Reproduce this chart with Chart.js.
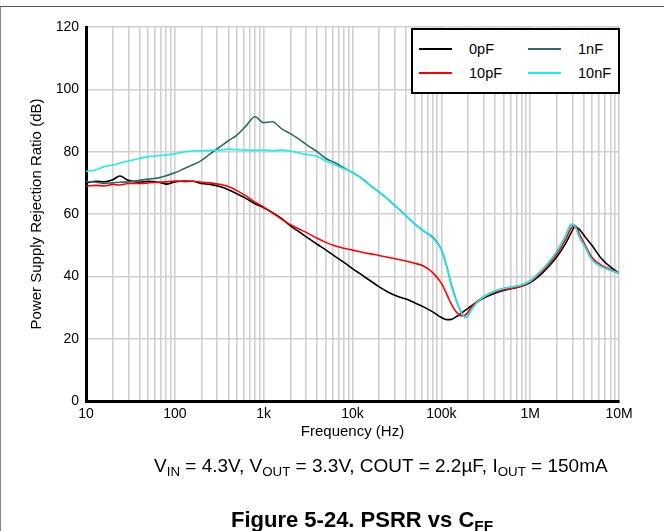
<!DOCTYPE html>
<html>
<head>
<meta charset="utf-8">
<script src="https://cdn.jsdelivr.net/npm/chart.js@4.4.0/dist/chart.umd.min.js"></script>
<style>
  html, body { margin: 0; padding: 0; background: #fff; }
  #wrap { position: relative; width: 664px; height: 531px; overflow: hidden; font-family: "Liberation Sans", Arial, sans-serif; }
  #frame { position: absolute; left: 0; top: 6px; width: 664px; height: 530px; border-top: 1px solid #555; border-left: 1px solid #888; box-sizing: border-box; }
  #chart { position: absolute; left: 0; top: 0; }
  #legend { position: absolute; left: 411px; top: 28px; width: 209px; height: 66px; border: 2px solid #000; box-sizing: border-box; background: #fff; }
  .item { position: absolute; font-size: 14.5px; color: #000; line-height: 16px; height: 16px; }
  .swatch { position: absolute; left: 0; top: 7px; width: 33px; height: 2px; }
  .name { position: absolute; left: 50px; top: 0; white-space: nowrap; }
  .caption { position: absolute; white-space: nowrap; color: #000; }
  .caption sub { font-size: 0.7em; vertical-align: -0.28em; line-height: 0; }
  #cond { left: 154px; top: 455px; font-size: 19px; }
  #fig { left: 231px; top: 508px; font-size: 22px; font-weight: bold; line-height: 24px; }
</style>
</head>
<body>
<div id="wrap">
  <div id="frame"></div>
  <canvas id="chart" width="664" height="531"></canvas>
  <div id="legend"></div>
  <div class="caption" id="cond">V<sub>IN</sub> = 4.3V, V<sub>OUT</sub> = 3.3V, COUT = 2.2µF, I<sub>OUT</sub> = 150mA</div>
  <div class="caption" id="fig">Figure 5-24. PSRR vs C<sub>FF</sub></div>
</div>
<script>
// frequency points (Hz) shared by all curves
const freqHz = [10, 13, 16, 20, 24, 30, 40, 50, 65, 80,
  100, 130, 160, 200, 250, 320, 400, 500, 630, 800,
  1000, 1250, 1600, 2000, 2500, 3200, 4000, 5000, 6300, 8000,
  10000, 12500, 16000, 20000, 25000, 32000, 40000, 50000, 63000, 80000,
  100000, 115000, 130000, 150000, 170000, 190000, 220000, 260000, 320000, 400000,
  500000, 630000, 800000, 1000000, 1250000, 1600000, 2000000, 2500000, 2900000, 3200000,
  3600000, 4200000, 5000000, 6300000, 8000000, 10000000];

// PSRR (dB)
const psrr0pF = [70, 70.5, 70.3, 71, 72.2, 70.8, 70.2, 70.5, 70.2, 69.6,
  70.3, 70.6, 70.5, 69.8, 69.5, 68.8, 67.8, 66.5, 65, 63.3,
  62, 60.5, 58.5, 56.2, 54.3, 52.2, 50.3, 48.5, 46.5, 44.5,
  42.5, 40.6, 38.5, 36.6, 35, 33.6, 32.7, 31.5, 30.2, 28.6,
  26.8, 26.1, 26.2, 27.2, 28.3, 29.3, 30.6, 32, 33.4, 34.6,
  35.5, 36.1, 36.8, 38, 40, 43, 46.3, 50.5, 54, 55.9,
  55, 52.5, 49.8, 45.8, 43, 41];

const psrr10pF = [69, 69.2, 69, 69.5, 69.3, 69.8, 69.8, 70, 70.2, 70.3,
  70.6, 70.4, 70.5, 70.2, 70, 69.5, 68.8, 67.5, 65.8, 63.8,
  62.2, 60.4, 58.3, 56.6, 55.2, 53.7, 52.2, 50.9, 49.8, 49,
  48.4, 47.8, 47.2, 46.7, 46.1, 45.5, 44.9, 44.2, 43.3, 41.2,
  37.8, 34.3, 31, 28.3, 27.3, 27.8, 30.2, 32.2, 33.8, 35,
  35.7, 36.2, 36.9, 38.2, 40.5, 43.7, 47.2, 51.8, 55.5, 56.3,
  53.5, 49.8, 46, 43.6, 42.2, 41];

const psrr1nF = [70.4, 70.2, 69.8, 70, 70.2, 70.3, 70.8, 71.2, 71.6, 72.3,
  73.2, 74.7, 75.8, 77.2, 79.3, 81.5, 83.5, 85.3, 88.2, 91.2,
  89.3, 89.6, 87.3, 85.8, 84, 81.8, 80, 77.8, 76.5, 74.8,
  73.3, 71.6, 69.1, 67, 64.8, 62, 59.5, 56.8, 54.6, 52.5,
  48.7, 43.2, 37.2, 31.7, 28.1, 26.9, 29.5, 32, 33.9, 35.2,
  36.1, 36.6, 37.2, 38.5, 41, 44.3, 48, 52.8, 56.6, 56.2,
  52.6, 49.2, 45.3, 43.2, 42, 41];

const psrr10nF = [73.6, 74.2, 75.2, 75.7, 76.3, 77, 77.8, 78.4, 78.7, 79,
  79.3, 80, 80.2, 80.3, 80.4, 80.5, 80.8, 80.6, 80.5, 80.4,
  80.5, 80.3, 80.5, 80.2, 79.6, 79, 78.5, 77, 75.8, 74.5,
  73.3, 71.5, 69, 67, 64.8, 62, 59.5, 56.8, 54.6, 52.3,
  48.5, 43, 37, 31.5, 28, 26.8, 29.5, 32, 33.9, 35.2,
  36.1, 36.6, 37.2, 38.5, 41, 44.3, 48, 52.8, 56.8, 56,
  52.5, 49.2, 45.2, 43.2, 42, 41];

const seriesNames = ['0pF', '10pF', '1nF', '10nF'];
const seriesColors = ['#000000', '#ff0000', '#2f6b6b', '#19eef2'];
const drawOrder = [4, 2, 3, 1];

const decadeTicks = [10, 100, 1000, 10000, 100000, 1000000, 10000000];
const decadeLabels = ['10', '100', '1k', '10k', '100k', '1M', '10M'];

function points(values) {
    return freqHz.map(function(f, i) { return {x: f, y: values[i]}; });
}

function buildChart() {
    const allValues = [psrr0pF, psrr10pF, psrr1nF, psrr10nF];
    const family = '"Liberation Sans", Arial, sans-serif';
    const tickFont = {family: family, size: 14};
    const titleFont = {family: family, size: 15};

    new Chart(document.getElementById('chart').getContext('2d'), {
        type: 'line',
        data: {
            datasets: seriesNames.map(function(name, i) {
                return {
                    label: name,
                    data: points(allValues[i]),
                    borderColor: seriesColors[i],
                    borderWidth: 1.6,
                    pointRadius: 0,
                    cubicInterpolationMode: 'monotone',
                    order: drawOrder[i]
                };
            })
        },
        options: {
            responsive: false,
            animation: false,
            devicePixelRatio: 1,
            layout: {padding: {top: 27, right: 45, left: 0, bottom: 0}},
            plugins: {legend: {display: false}, tooltip: {enabled: false}},
            scales: {
                x: {
                    type: 'logarithmic',
                    min: 10,
                    max: 10000000,
                    afterBuildTicks: function(scale) {
                        // grid at 1..9 of every decade
                        let ticks = [];
                        for (let d = 0; d < decadeTicks.length - 1; d++) {
                            for (let m = 1; m < 10; m++) ticks.push({value: decadeTicks[d] * m});
                        }
                        ticks.push({value: decadeTicks[decadeTicks.length - 1]});
                        scale.ticks = ticks;
                    },
                    afterFit: function(scale) { scale.height = 130; },
                    grid: {color: '#d0d0d0', lineWidth: 1.6, drawTicks: false},
                    border: {color: '#000', width: 3},
                    ticks: {
                        autoSkip: false,
                        maxRotation: 0,
                        padding: 5,
                        color: '#000',
                        font: tickFont,
                        callback: function(v) {
                            const k = decadeTicks.indexOf(v);
                            return k >= 0 ? decadeLabels[k] : '';
                        }
                    },
                    title: {display: true, text: 'Frequency (Hz)', color: '#000', font: titleFont, padding: {top: 0, bottom: 90}}
                },
                y: {
                    min: 0,
                    max: 120,
                    afterFit: function(scale) { scale.width = 86; },
                    grid: {color: '#d0d0d0', lineWidth: 1.6, drawTicks: false},
                    border: {color: '#000', width: 3},
                    ticks: {stepSize: 20, padding: 7, color: '#000', font: tickFont},
                    title: {display: true, text: 'Power Supply Rejection Ratio (dB)', color: '#000', font: titleFont, padding: {top: 28, bottom: 0}}
                }
            }
        }
    });

    // legend box, two columns like the original
    const legend = document.getElementById('legend');
    const cells = [[0, 0], [1, 0], [0, 1], [1, 1]]; // [row, col] per series
    seriesNames.forEach(function(name, i) {
        const el = document.createElement('div');
        el.className = 'item';
        el.style.top = (cells[i][0] * 24 + 11) + 'px';
        el.style.left = (cells[i][1] * 109 + 6) + 'px';
        const sw = document.createElement('div');
        sw.className = 'swatch';
        sw.style.background = seriesColors[i];
        const tx = document.createElement('div');
        tx.className = 'name';
        tx.textContent = name;
        el.appendChild(sw);
        el.appendChild(tx);
        legend.appendChild(el);
    });
}

buildChart();
</script>
</body>
</html>
